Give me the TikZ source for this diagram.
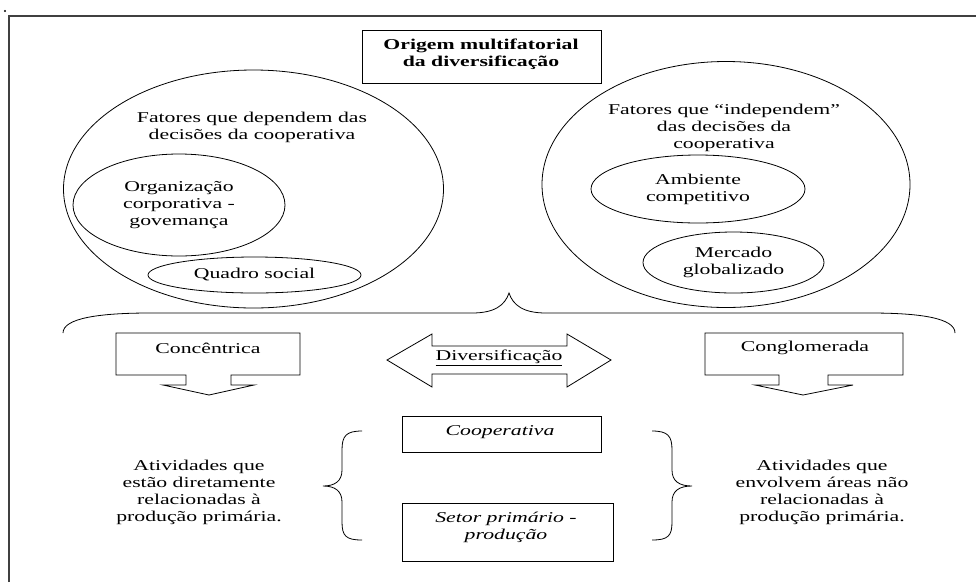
\documentclass[tikz,border=0pt]{standalone}
\usepackage{fontspec}
\setmainfont{Liberation Serif}[FakeStretch=1.45]
\usetikzlibrary{shapes.geometric}

\begin{document}
\begin{tikzpicture}[
    x=1pt, y=-1pt,
    every node/.style={font=\fontsize{15}{17}\selectfont, align=center, inner sep=0pt},
    oval/.style={ellipse, draw, line width=0.8pt},
    box/.style={rectangle, draw, line width=0.8pt},
    boldtxt/.style={font=\fontsize{15}{17}\selectfont\bfseries},
    ittxt/.style={font=\fontsize{15}{17}\selectfont\itshape},
    line width=0.8pt
  ]
    \useasboundingbox (0,0) rectangle (976,582);
    \fill (5,11) circle (1.2);
    \draw[line width=1.2pt, black!75] (9,582) -- (9,16) -- (976,16);

    \node[box, minimum width=239pt, minimum height=53pt] (origem) at (481.5,56.5) {};
    \node[boldtxt] (origemtxt) at (481,54) {Origem multifatorial\\da diversificação};

    \node[oval, minimum width=380pt, minimum height=238pt] (dep) at (253.5,189) {};
    \node (deptxt) at (252,127) {Fatores que dependem das\\decisões da cooperativa};
    \node[oval, minimum width=212pt, minimum height=102pt] (org) at (179,205) {Organização\\corporativa -\\govemança};
    \node[oval, minimum width=213pt, minimum height=36pt] (quadro) at (254.5,275) {Quadro social};

    \node[oval, minimum width=368pt, minimum height=246pt] (indep) at (726,184.5) {};
    \node (indeptxt) at (724,128) {Fatores que “independem”\\das decisões da\\cooperativa};
    \node[oval, minimum width=214pt, minimum height=68pt] (amb) at (698,189) {Ambiente\\competitivo};
    \node[oval, minimum width=181pt, minimum height=61pt] (merc) at (733.5,262.5) {Mercado\\globalizado};

    \draw (63,333) .. controls (63,318) and (100,313) .. (150,313) -- (472,313)
      .. controls (495,313) and (505,305) .. (509,293)
      .. controls (513,305) and (523,313) .. (546,313) -- (870,313)
      .. controls (920,313) and (955,318) .. (955,333);

    \draw (116,333) -- (300,333) -- (300,375) -- (231,375) -- (231,385) -- (254,385) -- (209,395)
      -- (163,385) -- (186,385) -- (186,375) -- (116,375) -- cycle;
    \node (conc) at (208,348) {Concêntrica};

    \draw (705,333) -- (903,333) -- (903,375) -- (828,375) -- (828,385) -- (853,385) -- (803,395)
      -- (755,385) -- (779,385) -- (779,375) -- (705,375) -- cycle;
    \node (cong) at (805,348) {Conglomerada};

    \draw (387,360) -- (432,334) -- (432,346) -- (567,346) -- (567,334) -- (611,360)
      -- (567,387) -- (567,374) -- (432,374) -- (432,387) -- cycle;
    \node (div) at (499,358) {\underline{Diversificação}};

    \node[box, minimum width=199pt, minimum height=36pt] (coop) at (501.5,434) {};
    \node[ittxt] (cooptxt) at (500,432) {Cooperativa};
    \node[box, minimum width=211pt, minimum height=58pt] (setor) at (507.5,532) {};
    \node[ittxt] (setortxt) at (506,527) {Setor primário -\\produção};

    \draw (362,431) .. controls (346,431) and (342,436) .. (342,450) -- (342,470)
      .. controls (342,481) and (335,486) .. (323,486)
      .. controls (335,486) and (342,491) .. (342,502) -- (342,522)
      .. controls (342,536) and (346,540) .. (362,540);
    \draw (652,431) .. controls (668,431) and (672,436) .. (672,450) -- (672,470)
      .. controls (672,481) and (679,486) .. (692,486)
      .. controls (679,486) and (672,491) .. (672,502) -- (672,522)
      .. controls (672,536) and (668,540) .. (652,540);

    \node (concativ) at (199,492) {Atividades que\\estão diretamente\\relacionadas à\\produção primária.};
    \node (congativ) at (822,492) {Atividades que\\envolvem áreas não\\relacionadas à\\produção primária.};

  \end{tikzpicture}
\end{document}
